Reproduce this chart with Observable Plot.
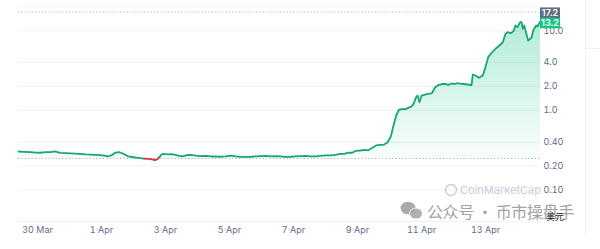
<!DOCTYPE html>
<html><head><meta charset="utf-8">
<script src="https://cdn.jsdelivr.net/npm/d3@7"></script>
<script src="https://cdn.jsdelivr.net/npm/@observablehq/plot@0.6"></script>
<style>
html,body{margin:0;padding:0;background:#fff;}
#wrap{position:relative;width:600px;height:249px;overflow:hidden;font-family:Inter,sans-serif;}
</style></head><body><div id="wrap"></div>
<script>
const times = [
"2025-03-29T09:45","2025-03-29T14:00","2025-03-29T19:00","2025-03-29T23:00","2025-03-30T02:00","2025-03-30T06:00",
"2025-03-30T10:00","2025-03-30T13:00","2025-03-30T17:00","2025-03-30T21:00","2025-03-31T01:00","2025-03-31T04:00",
"2025-03-31T08:00","2025-03-31T12:00","2025-03-31T16:00","2025-03-31T19:00","2025-03-31T23:00","2025-04-01T03:00",
"2025-04-01T05:00","2025-04-01T08:00","2025-04-01T10:00","2025-04-01T13:00","2025-04-01T15:00","2025-04-01T18:00",
"2025-04-01T20:00","2025-04-01T23:00","2025-04-02T02:00","2025-04-02T05:00","2025-04-02T08:00","2025-04-02T11:00",
"2025-04-02T14:00","2025-04-02T16:00","2025-04-02T18:00","2025-04-02T19:30","2025-04-02T21:00","2025-04-02T22:30",
"2025-04-03T01:30","2025-04-03T04:30","2025-04-03T07:30","2025-04-03T10:00","2025-04-03T13:00","2025-04-03T16:00",
"2025-04-03T19:00","2025-04-03T22:30","2025-04-04T02:00","2025-04-04T06:00","2025-04-04T10:00","2025-04-04T13:30",
"2025-04-04T17:00","2025-04-04T21:00","2025-04-05T01:00","2025-04-05T04:30","2025-04-05T08:00","2025-04-05T12:00",
"2025-04-05T16:00","2025-04-05T19:30","2025-04-05T23:00","2025-04-06T03:00","2025-04-06T07:00","2025-04-06T10:30",
"2025-04-06T14:00","2025-04-06T18:00","2025-04-06T22:00","2025-04-07T01:30","2025-04-07T05:00","2025-04-07T09:00",
"2025-04-07T13:00","2025-04-07T16:30","2025-04-07T20:00","2025-04-08T00:00","2025-04-08T04:00","2025-04-08T07:30",
"2025-04-08T11:00","2025-04-08T14:00","2025-04-08T17:00","2025-04-08T20:00","2025-04-08T22:30","2025-04-09T02:00",
"2025-04-09T06:00","2025-04-09T08:00","2025-04-09T11:00","2025-04-09T14:00","2025-04-09T17:00","2025-04-09T20:00",
"2025-04-09T22:30","2025-04-10T01:00","2025-04-10T03:00","2025-04-10T05:00","2025-04-10T07:00","2025-04-10T10:00",
"2025-04-10T12:00","2025-04-10T14:00","2025-04-10T16:30","2025-04-10T18:00","2025-04-10T20:00","2025-04-10T21:00",
"2025-04-10T22:30","2025-04-11T00:00","2025-04-11T02:00","2025-04-11T04:30","2025-04-11T07:00","2025-04-11T08:00",
"2025-04-11T10:00","2025-04-11T13:00","2025-04-11T16:00","2025-04-11T18:00","2025-04-11T20:00","2025-04-11T22:30",
"2025-04-12T01:00","2025-04-12T03:00","2025-04-12T05:00","2025-04-12T07:30","2025-04-12T10:30","2025-04-12T13:30",
"2025-04-12T14:30","2025-04-12T16:30","2025-04-12T19:00","2025-04-12T22:00","2025-04-13T00:00","2025-04-13T02:00",
"2025-04-13T05:00","2025-04-13T07:30","2025-04-13T10:30","2025-04-13T13:00","2025-04-13T15:00","2025-04-13T16:30",
"2025-04-13T19:00","2025-04-13T21:00","2025-04-13T22:30","2025-04-14T00:00","2025-04-14T02:00","2025-04-14T03:00",
"2025-04-14T04:00","2025-04-14T05:00","2025-04-14T07:00","2025-04-14T08:00","2025-04-14T10:30","2025-04-14T12:00",
"2025-04-14T14:00","2025-04-14T15:00","2025-04-14T17:15"
];
const prices = [
0.306,0.303,0.300,0.297,0.295,0.300,
0.301,0.308,0.294,0.292,0.289,0.287,
0.285,0.282,0.280,0.278,0.276,0.270,
0.265,0.277,0.293,0.301,0.293,0.278,
0.265,0.261,0.257,0.253,0.249,0.247,
0.244,0.239,0.246,0.261,0.280,0.286,
0.282,0.283,0.278,0.269,0.266,0.276,
0.277,0.272,0.267,0.269,0.265,0.265,
0.263,0.265,0.272,0.265,0.262,0.262,
0.263,0.265,0.267,0.269,0.266,0.267,
0.265,0.262,0.263,0.265,0.267,0.270,
0.266,0.265,0.269,0.274,0.274,0.278,
0.286,0.285,0.297,0.295,0.311,0.315,
0.321,0.317,0.339,0.364,0.371,0.374,
0.397,0.472,0.648,0.866,1.015,1.05,
1.035,1.08,1.12,1.21,1.47,1.54,
1.27,1.54,1.565,1.62,1.63,1.67,
1.94,2.10,2.15,2.16,2.09,2.18,
2.15,2.20,2.18,2.15,2.12,2.075,
2.83,2.75,2.57,2.75,3.5,4.67,
5.38,5.95,6.54,7.2,9.16,9.6,
9.33,9.9,11.65,11.1,12.85,12.85,
10.6,11.65,8.73,7.55,8.17,10.3,
11.65,11.3,13.2
];
const openPrice = 0.25;
const highPrice = 17.2;
const lastPrice = 13.2;
const yDomain = [0.0405, 22];
const yTicks = [0.1, 0.2, 0.4, 1, 2, 4, 10];
const gridTicks = [0.1, 0.2, 0.4, 1, 2, 4, 10, 20];
const xTicks = ["2025-03-30","2025-04-01","2025-04-03","2025-04-05","2025-04-07","2025-04-09","2025-04-11","2025-04-13"];
const xDomain = ["2025-03-29T09:45", "2025-04-14T17:15"];
const unitLabel = "美元";
const watermark1 = "CoinMarketCap";
const watermark2 = "公众号 · 币市操盘手";

const GREEN = "#17a870", FILLGREEN = "#16c784", RED = "#d93440";
const rows = times.map((t, i) => ({date: new Date(t + "Z"), price: prices[i]}));

const defs = () => {
  const d = d3.create("svg:defs");
  const g = d.append("linearGradient").attr("id", "gUp").attr("gradientUnits", "userSpaceOnUse")
    .attr("x1", 0).attr("x2", 0).attr("y1", 8).attr("y2", 158);
  g.append("stop").attr("offset", 0).attr("stop-color", FILLGREEN).attr("stop-opacity", 0.36);
  g.append("stop").attr("offset", 1).attr("stop-color", FILLGREEN).attr("stop-opacity", 0.03);
  const r = d.append("linearGradient").attr("id", "gDn").attr("gradientUnits", "userSpaceOnUse")
    .attr("x1", 0).attr("x2", 0).attr("y1", 158).attr("y2", 175);
  r.append("stop").attr("offset", 0).attr("stop-color", RED).attr("stop-opacity", 0.05);
  r.append("stop").attr("offset", 1).attr("stop-color", RED).attr("stop-opacity", 0.2);
  return d.node();
};

const chart = Plot.plot({
  width: 600, height: 249,
  marginLeft: 18, marginRight: 60, marginTop: 3, marginBottom: 28,
  x: {type: "utc", domain: xDomain.map(s => new Date(s + "Z")), label: null},
  y: {type: "log", domain: yDomain, label: null},
  color: {type: "identity"},
  style: {fontFamily: "Inter, sans-serif", background: "transparent", overflow: "visible"},
  marks: [
    defs,
    Plot.ruleY(gridTicks, {stroke: "#eff2f5", strokeWidth: 1}),
    Plot.ruleY([yDomain[0]], {stroke: "#eff2f5", strokeWidth: 1}),
    Plot.areaY(rows, {x: "date", y1: openPrice, y2: d => Math.max(d.price, openPrice), fill: "url(#gUp)"}),
    Plot.areaY(rows, {x: "date", y1: openPrice, y2: d => Math.min(d.price, openPrice), fill: "url(#gDn)"}),
    Plot.ruleY([openPrice], {stroke: "#a6b0c3", strokeDasharray: "1.2,2.2", strokeWidth: 1}),
    Plot.ruleY([highPrice], {stroke: "#a6b0c3", strokeDasharray: "1.2,2.2", strokeWidth: 1}),
    Plot.lineY(rows, {x: "date", y: "price", z: null, stroke: d => d.price >= openPrice ? GREEN : RED, strokeWidth: 1.8, curve: "linear"}),
    Plot.axisY({anchor: "right", ticks: yTicks, tickFormat: v => v < 1 ? v.toFixed(2) : v.toFixed(1),
      tickSize: 0, tickPadding: 3, fontSize: 9, color: "#616e85", label: null}),
    Plot.axisX({ticks: xTicks.map(s => new Date(s + "T00:00Z")), tickFormat: d3.utcFormat("%-d %b"),
      tickSize: 0, tickPadding: 5, fontSize: 9, color: "#616e85", label: null})
  ]
});

const svg = d3.select(chart);
const y = chart.scale("y");
const x = chart.scale("x");
const xr = x.range[1];

// watermarks
const wm = svg.append("g").attr("pointer-events", "none").attr("text-anchor", "start");
wm.append("circle").attr("cx", 451).attr("cy", 190).attr("r", 5.5).attr("fill", "none").attr("stroke", "#c9ced8").attr("stroke-width", 1.4);
wm.append("text").attr("x", 460).attr("y", 190).attr("dy", "0.35em").attr("font-size", 11).attr("fill", "#c9ced8")
  .attr("font-family", "Inter, sans-serif").text(watermark1);
wm.append("ellipse").attr("cx", 408).attr("cy", 208).attr("rx", 7.5).attr("ry", 6.3).attr("fill", "#9a9a9a").attr("opacity", 0.85);
wm.append("ellipse").attr("cx", 416).attr("cy", 213.5).attr("rx", 6.5).attr("ry", 5.5).attr("fill", "#a8a8a8").attr("stroke", "#fff").attr("stroke-width", 1).attr("opacity", 0.9);
wm.append("text").attr("x", 427).attr("y", 212).attr("dy", "0.35em").attr("font-size", 16).attr("letter-spacing", -0.4)
  .attr("fill", "#8c8c8c").attr("opacity", 0.8)
  .attr("font-family", "'Noto Sans CJK SC', sans-serif").text(watermark2);

// unit label
svg.append("text").attr("x", 546).attr("y", 217).attr("dy", "0.35em").attr("text-anchor", "start").attr("font-size", 9).attr("fill", "#222")
  .attr("font-family", "'Noto Sans CJK SC', sans-serif").text(unitLabel);

// price boxes
const grayC = y.apply(highPrice) + 1.3;
const greenC = Math.max(y.apply(lastPrice), grayC + 10.3);
const boxes = [{v: highPrice, c: grayC, fill: "#616e85"}, {v: lastPrice, c: greenC, fill: FILLGREEN}];
const bg = svg.append("g");
boxes.forEach(b => {
  bg.append("rect").attr("x", xr).attr("y", b.c - 5.4).attr("width", 20).attr("height", 10.6).attr("fill", b.fill);
  bg.append("text").attr("x", xr + 10).attr("y", b.c).attr("dy", "0.35em").attr("text-anchor", "middle")
    .attr("font-size", 9).attr("font-weight", 600).attr("fill", "#fff").attr("font-family", "Inter, sans-serif")
    .text(b.v.toFixed(1));
});

// panel border on right
svg.append("line").attr("x1", 585.5).attr("x2", 585.5).attr("y1", 0).attr("y2", 236).attr("stroke", "#eef0f3");
svg.append("line").attr("x1", 585.5).attr("x2", 600).attr("y1", 48.5).attr("y2", 48.5).attr("stroke", "#eef0f3");

document.getElementById("wrap").appendChild(chart);
</script>
</body></html>
